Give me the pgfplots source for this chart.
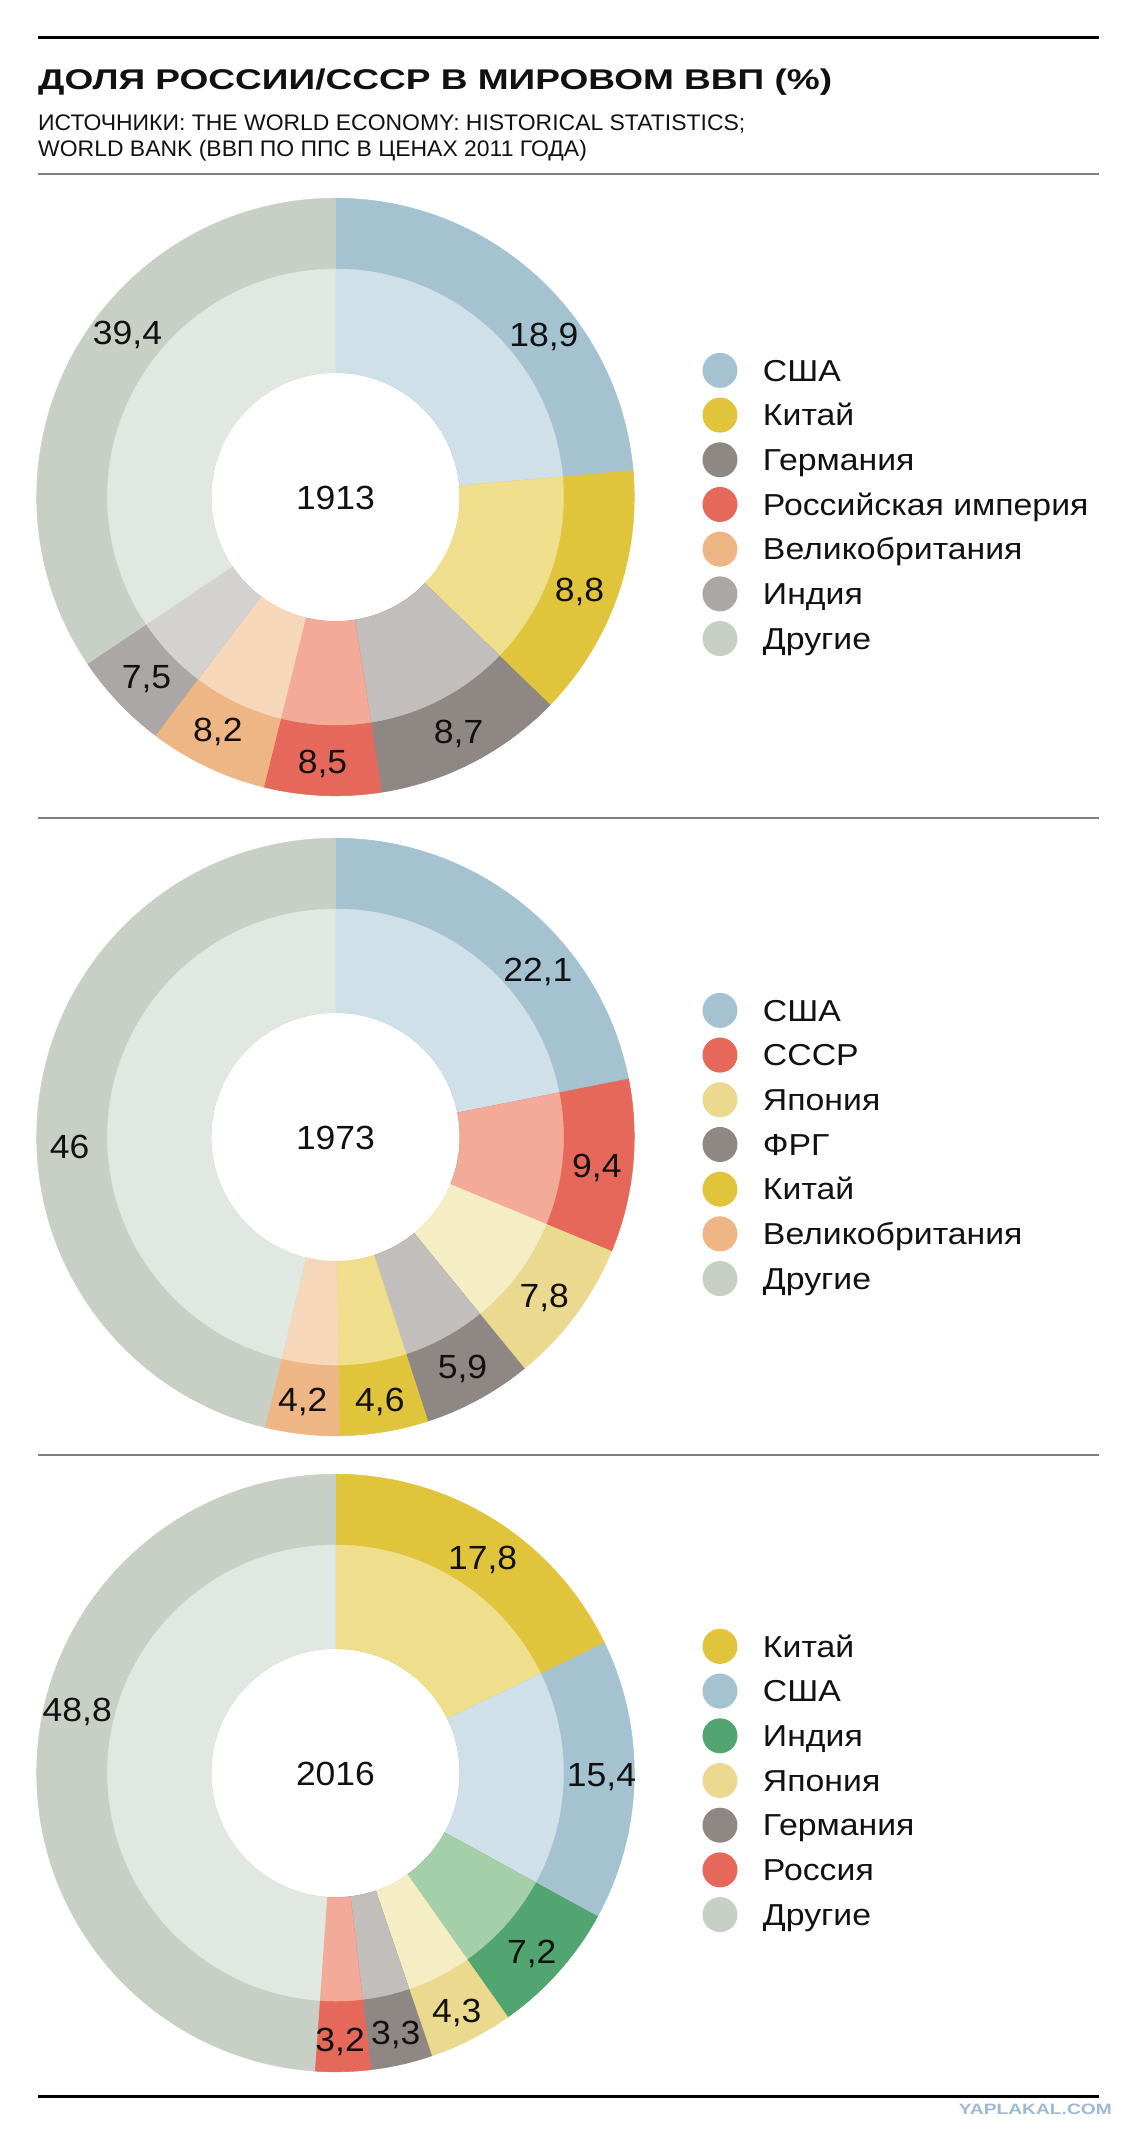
\documentclass[border=0pt]{standalone}
\usepackage{fontspec}
\setmainfont{Liberation Sans}
\newfontfamily\titfont[FakeStretch=1.30]{Liberation Sans}
\newfontfamily\subfontfam[FakeStretch=1.02]{Liberation Sans}
\newfontfamily\legfontfam[FakeStretch=1.115]{Liberation Sans}
\newfontfamily\numfontfam[FakeStretch=1.06]{Liberation Sans}
\newfontfamily\wmfontfam[FakeStretch=1.28]{Liberation Sans}
\usepackage{pgfplots}
\pgfplotsset{compat=1.18}
\usepackage{pgfplotstable}

\newcommand\TitleFont{\titfont\bfseries\fontsize{28.5}{34}\selectfont}
\newcommand\SubFont{\subfontfam\fontsize{22.5}{27}\selectfont}
\newcommand\LegFont{\legfontfam\fontsize{30.3}{36}\selectfont}
\newcommand\NumFont{\numfontfam\fontsize{33.5}{40}\selectfont}
\newcommand\WMFont{\wmfontfam\bfseries\fontsize{15}{18}\selectfont}

\definecolor{cUSA}{HTML}{A5C2D1}\definecolor{iUSA}{HTML}{D0E0E8}
\definecolor{cCHN}{HTML}{DFC43C}\definecolor{iCHN}{HTML}{EFDF8C}
\definecolor{cGER}{HTML}{8E8784}\definecolor{iGER}{HTML}{C2BEBC}
\definecolor{cRUS}{HTML}{E5685A}\definecolor{iRUS}{HTML}{F3AA98}
\definecolor{cGBR}{HTML}{EEB585}\definecolor{iGBR}{HTML}{F7D7B9}
\definecolor{cIND}{HTML}{ABA7A6}\definecolor{iIND}{HTML}{D4D2D1}
\definecolor{cOTH}{HTML}{C8CFC5}\definecolor{iOTH}{HTML}{E1E7E1}
\definecolor{cJPN}{HTML}{EBD98F}\definecolor{iJPN}{HTML}{F5EDC4}
\definecolor{cINDg}{HTML}{52A570}\definecolor{iINDg}{HTML}{A5CFA9}
\definecolor{sepgray}{HTML}{808080}
\definecolor{wmblue}{HTML}{9DB9D3}
\definecolor{txt}{HTML}{111111}

% key = colour of the slice; cx cy = donut centre;
% a0 a1 = slice boundaries (degrees clockwise from 12 o'clock, as drawn);
% la lr = label angle and radius; lab = printed share (%)
\pgfplotstableread{
key cx cy a0 a1 la lr lab
USA 0 0 0 84.9 52.1 264 18,9
CHN 0 0 84.9 134.1 110.8 261 8,8
GER 0 0 134.1 171.1 152.3 265 8,7
RUS 0 0 171.1 193.9 182.8 265 8,5
GBR 0 0 193.9 217.1 206.8 261 8,2
IND 0 0 217.1 236.1 226.4 261 7,5
OTH 0 0 236.1 360 308.3 265 39,4
}\tabA
\pgfplotstableread{
key cx cy a0 a1 la lr lab
USA 0 0 0 78.8 50.3 263 22,1
RUS 0 0 78.8 112.5 96.3 263 9,4
JPN 0 0 112.5 140.8 127.2 262 7,8
GER 0 0 140.8 162.0 151.0 262 5,9
CHN 0 0 162.0 179.3 170.4 266 4,6
GBR 0 0 179.3 193.7 187.1 265 4,2
OTH 0 0 193.7 360 267.9 266 46
}\tabB
\pgfplotstableread{
key cx cy a0 a1 la lr lab
CHN 0 0 0 64.2 34.3 261 17,8
USA 0 0 64.2 118.7 90.4 266 15,4
INDg 0 0 118.7 144.8 132.2 265 7,2
JPN 0 0 144.8 161.2 153.0 267 4,3
GER 0 0 161.2 173.2 166.9 266 3,3
RUS 0 0 173.2 184.0 179.0 267 3,2
OTH 0 0 184.0 360 283.9 266 48,8
}\tabC

\pgfplotsset{
  donut/.style={anchor=center, x=1pt, y=1pt,
    xmin=-320, xmax=320, ymin=-320, ymax=320,
    hide axis, clip=false,
    legend cell align=left,
    legend style={at={(axis description cs:1.0734,0.7252)}, anchor=north west,
      draw=none, fill=none, inner sep=0pt, outer sep=0pt,
      row sep=9.7pt, font=\LegFont, text=txt,
      nodes={inner sep=0pt, text height=21.6pt, text depth=0pt, anchor=west},
      /tikz/every odd column/.append style={column sep=25.5pt}}},
  ringslices/.style={forget plot, scatter, only marks, mark=text, text mark={},
    point meta=explicit symbolic,
    visualization depends on={\thisrow{a0} \as \aF},
    visualization depends on={\thisrow{a1} \as \aT},
    scatter/@pre marker code/.code={%
      \edef\oc{c\pgfplotspointmeta}\edef\ic{i\pgfplotspointmeta}%
      \fill[fill=\oc, draw=\oc, line width=0.5pt] (90-\aF:124.5pt) arc[start angle=90-\aF, end angle=90-\aT, radius=124.5pt]
        -- (90-\aT:298.8pt) arc[start angle=90-\aT, end angle=90-\aF, radius=298.8pt] -- cycle;
      \fill[fill=\ic, draw=\ic, line width=0.5pt] (90-\aF:124.5pt) arc[start angle=90-\aF, end angle=90-\aT, radius=124.5pt]
        -- (90-\aT:228pt) arc[start angle=90-\aT, end angle=90-\aF, radius=228pt] -- cycle;
    },
    scatter/@post marker code/.code={}},
  ringlabels/.style={forget plot, scatter, only marks, mark=text, text mark={},
    point meta=explicit symbolic,
    visualization depends on={\thisrow{la} \as \la},
    visualization depends on={\thisrow{lr} \as \lr},
    scatter/@pre marker code/.code={%
      \node[font=\NumFont, text=txt, inner sep=0pt, text height=24pt, text depth=0pt, anchor=center]
        at (90-\la:\lr pt) {\pgfplotspointmeta};
    },
    scatter/@post marker code/.code={}},
}
\newcommand\legitem[2]{\addlegendimage{legend image code/.code={\fill[fill=#1, draw=none] (0pt,0pt) circle[radius=17.5pt];}}\addlegendentry{#2}}

\begin{document}
\begin{tikzpicture}[x=1pt,y=1pt]
\fill[white] (0,0) rectangle (1134,-2138);
\useasboundingbox (0,0) rectangle (1134,-2138);
\draw[line width=3pt, black] (38,-38) -- (1099,-38);
\node[anchor=base west, inner sep=0pt, font=\TitleFont, text=txt] at (38,-90) {ДОЛЯ РОССИИ/СССР В МИРОВОМ ВВП (\%)};
\node[anchor=base west, inner sep=0pt, font=\SubFont, text=txt] at (38,-131) {ИСТОЧНИКИ: THE WORLD ECONOMY: HISTORICAL STATISTICS;};
\node[anchor=base west, inner sep=0pt, font=\SubFont, text=txt] at (38,-157) {WORLD BANK (ВВП ПО ППС В ЦЕНАХ 2011 ГОДА)};
\draw[line width=1.5pt, sepgray] (38,-174) -- (1099,-174);
\draw[line width=1.5pt, sepgray] (38,-818) -- (1099,-818);
\draw[line width=1.5pt, sepgray] (38,-1455) -- (1099,-1455);
\draw[line width=3pt, black] (38,-2096) -- (1099,-2096);
\node[anchor=base east, inner sep=0pt, font=\WMFont, text=wmblue] at (1112,-2114) {YAPLAKAL.COM};

\begin{axis}[donut, at={(335.5,-497)}]
\addplot[ringslices] table[x=cx, y=cy, meta=key] {\tabA};
\addplot[ringlabels] table[x=cx, y=cy, meta=lab] {\tabA};
\node[font=\NumFont, text=txt, inner sep=0pt, text height=24pt, text depth=0pt] at (axis cs:0,0) {1913};
\legitem{cUSA}{США}
\legitem{cCHN}{Китай}
\legitem{cGER}{Германия}
\legitem{cRUS}{Российская империя}
\legitem{cGBR}{Великобритания}
\legitem{cIND}{Индия}
\legitem{cOTH}{Другие}
\end{axis}

\begin{axis}[donut, at={(335.5,-1137)}]
\addplot[ringslices] table[x=cx, y=cy, meta=key] {\tabB};
\addplot[ringlabels] table[x=cx, y=cy, meta=lab] {\tabB};
\node[font=\NumFont, text=txt, inner sep=0pt, text height=24pt, text depth=0pt] at (axis cs:0,0) {1973};
\legitem{cUSA}{США}
\legitem{cRUS}{СССР}
\legitem{cJPN}{Япония}
\legitem{cGER}{ФРГ}
\legitem{cCHN}{Китай}
\legitem{cGBR}{Великобритания}
\legitem{cOTH}{Другие}
\end{axis}

\begin{axis}[donut, at={(335.5,-1773)}]
\addplot[ringslices] table[x=cx, y=cy, meta=key] {\tabC};
\addplot[ringlabels] table[x=cx, y=cy, meta=lab] {\tabC};
\node[font=\NumFont, text=txt, inner sep=0pt, text height=24pt, text depth=0pt] at (axis cs:0,0) {2016};
\legitem{cCHN}{Китай}
\legitem{cUSA}{США}
\legitem{cINDg}{Индия}
\legitem{cJPN}{Япония}
\legitem{cGER}{Германия}
\legitem{cRUS}{Россия}
\legitem{cOTH}{Другие}
\end{axis}
\end{tikzpicture}
\end{document}
